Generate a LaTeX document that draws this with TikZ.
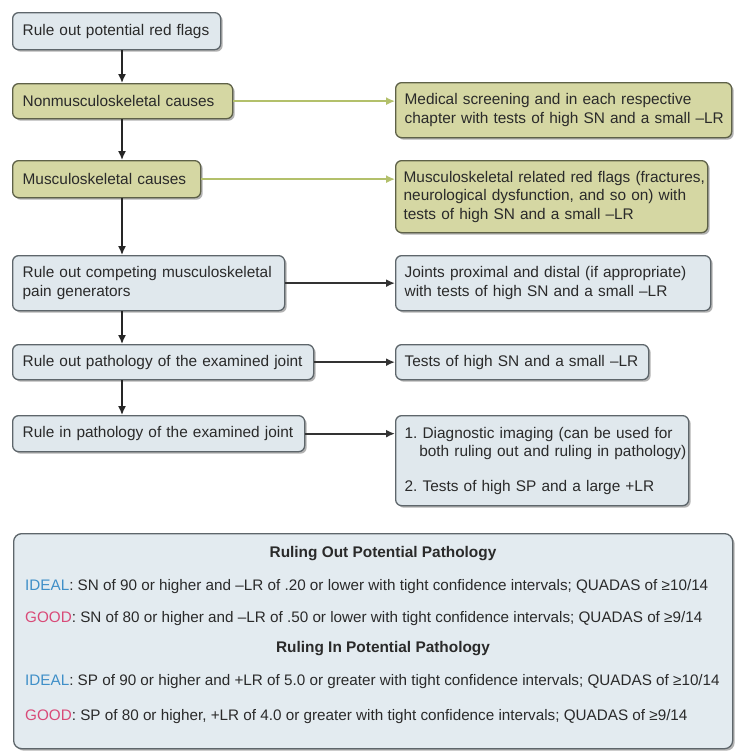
\documentclass[tikz,border=0pt]{standalone}
\usepackage{fontspec}
\setmainfont{Liberation Sans}
\usetikzlibrary{arrows.meta,shadows}
\definecolor{bluefill}{HTML}{E0E8ED}
\definecolor{bluedraw}{HTML}{5E666B}
\definecolor{greenfill}{HTML}{D5D7A3}
\definecolor{greendraw}{HTML}{5E6148}
\definecolor{greenarr}{HTML}{B3C06B}
\definecolor{legendfill}{HTML}{E3EBF0}
\definecolor{idealblue}{HTML}{3F8FC8}
\definecolor{goodred}{HTML}{D94A78}
\definecolor{txt}{HTML}{2A2A2A}
\frenchspacing
\begin{document}
\begin{tikzpicture}[x=1pt,y=-1pt,
  bluebox/.style={draw=bluedraw, fill=bluefill, line width=1.3pt, rounded corners=6pt,
    anchor=north west, align=left, inner xsep=10pt, inner ysep=0pt, text=txt,
    font=\fontsize{15.4}{18.5}\selectfont,
    drop shadow={shadow xshift=2pt, shadow yshift=-2pt, fill=black, opacity=0.3}},
  greenbox/.style={bluebox, draw=greendraw, fill=greenfill},
  legendbox/.style={bluebox, fill=legendfill, rounded corners=8pt},
  flowarrow/.style={draw=black!85, line width=1.5pt, -{Latex[length=9pt,width=8pt]}},
  sidearrow/.style={draw=black!80, line width=1.8pt, -{Latex[length=9pt,width=8pt]}},
  greenarrow/.style={draw=greenarr, line width=1.5pt, -{Latex[length=9pt,width=8pt]}},
  legtext/.style={anchor=base west, inner sep=0pt, text=txt, font=\fontsize{15.25}{18.5}\selectfont},
  legtitle/.style={anchor=base, inner sep=0pt, text=txt, font=\fontsize{15.4}{18.5}\selectfont\bfseries}]
\path[use as bounding box] (0,0) rectangle (737,753);
\fill[white] (0,0) rectangle (737,753);

% left column
\node[bluebox, minimum width=208pt, minimum height=37pt, text width=188pt] (b1) at (12,12)
  {\mbox{Rule out potential red flags}};
\node[greenbox, minimum width=220pt, minimum height=35pt, text width=200pt] (b2) at (12,83)
  {\mbox{Nonmusculoskeletal causes}};
\node[greenbox, minimum width=188pt, minimum height=37pt, text width=168pt] (b3) at (12,160)
  {\mbox{Musculoskeletal causes}};
\node[bluebox, minimum width=272pt, minimum height=55pt, text width=252pt] (b4) at (12,255)
  {\mbox{Rule out competing musculoskeletal}\\\mbox{pain generators}};
\node[bluebox, minimum width=301pt, minimum height=35pt, text width=281pt] (b5) at (12,344)
  {\mbox{Rule out pathology of the examined joint}};
\node[bluebox, minimum width=292pt, minimum height=36pt, text width=272pt] (b6) at (12,415)
  {\mbox{Rule in pathology of the examined joint}};

% right column
\node[greenbox, minimum width=336pt, minimum height=55pt, text width=318pt, inner xsep=9pt] (r1) at (395,82)
  {\mbox{Medical screening and in each respective}\\\mbox{chapter with tests of high SN and a small –LR}};
\node[greenbox, minimum width=312pt, minimum height=72pt, text width=296pt, inner xsep=8pt] (r2) at (395,160)
  {\mbox{Musculoskeletal related red flags (fractures,}\\\mbox{neurological dysfunction, and so on) with}\\\mbox{tests of high SN and a small –LR}};
\node[bluebox, minimum width=315pt, minimum height=55pt, text width=297pt, inner xsep=9pt] (r3) at (395,255)
  {\mbox{Joints proximal and distal (if appropriate)}\\\mbox{with tests of high SN and a small –LR}};
\node[bluebox, minimum width=253pt, minimum height=35pt, text width=235pt, inner xsep=9pt] (r4) at (395,344)
  {\mbox{Tests of high SN and a small –LR}};
\node[bluebox, minimum width=293pt, minimum height=90pt, text width=275pt, inner xsep=9pt] (r5) at (395,415)
  {\mbox{1. Diagnostic imaging (can be used for}\\\mbox{\hspace*{0.95em}both ruling out and ruling in pathology)}\\[16pt]\mbox{2. Tests of high SP and a large +LR}};

% vertical axis
\coordinate (ax) at (122,0);
\draw[flowarrow] (b1.south -| ax) -- (b2.north -| ax);
\draw[flowarrow] (b2.south -| ax) -- (b3.north -| ax);
\draw[flowarrow] (b3.south -| ax) -- (b4.north -| ax);
\draw[flowarrow] (b4.south -| ax) -- (b5.north -| ax);
\draw[flowarrow] (b5.south -| ax) -- (b6.north -| ax);

% horizontal arrows
\draw[greenarrow] (b2.east) -- (b2.east -| r1.west);
\draw[greenarrow] (b3.east) -- (b3.east -| r2.west);
\draw[sidearrow] (b4.east) -- (b4.east -| r3.west);
\draw[sidearrow] (b5.east) -- (b5.east -| r4.west);
\draw[sidearrow] (b6.east) -- (b6.east -| r5.west);

% legend
\node[legendbox, minimum width=719pt, minimum height=215pt] (lg) at (13,533) {};
\node[legtitle] (h1) at (383,557) {Ruling Out Potential Pathology};
\node[legtext] (l1) at (25,590) {\textcolor{idealblue}{IDEAL}: SN of 90 or higher and –LR of .20 or lower with tight confidence intervals; QUADAS of ≥10/14};
\node[legtext] (l2) at (25,622) {\textcolor{goodred}{GOOD}: SN of 80 or higher and –LR of .50 or lower with tight confidence intervals; QUADAS of ≥9/14};
\node[legtitle] (h2) at (383,652) {Ruling In Potential Pathology};
\node[legtext] (l3) at (25,685) {\textcolor{idealblue}{IDEAL}: SP of 90 or higher and +LR of 5.0 or greater with tight confidence intervals; QUADAS of ≥10/14};
\node[legtext] (l4) at (25,720) {\textcolor{goodred}{GOOD}: SP of 80 or higher, +LR of 4.0 or greater with tight confidence intervals; QUADAS of ≥9/14};
\end{tikzpicture}
\end{document}
